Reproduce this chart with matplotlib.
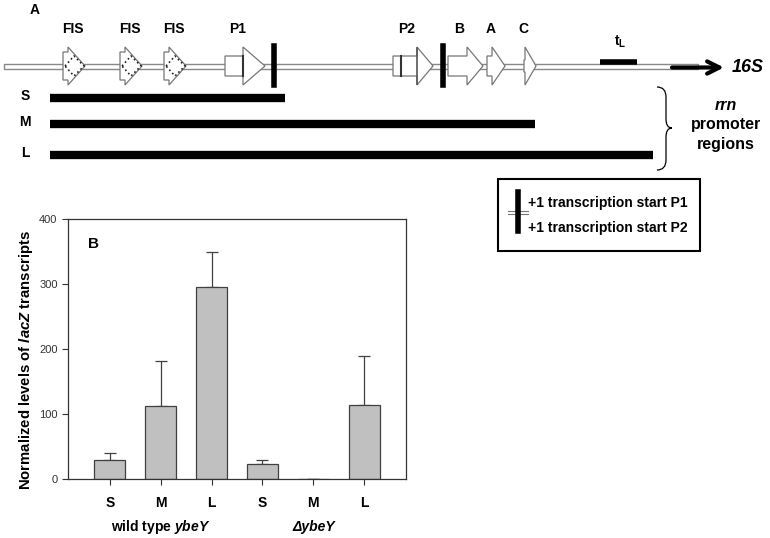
import matplotlib
matplotlib.use("Agg")
import matplotlib.pyplot as plt
from matplotlib.patches import Polygon, Rectangle, PathPatch
from matplotlib.path import Path

plt.rcParams['font.family'] = ['Liberation Sans', 'DejaVu Sans']
plt.rcParams['mathtext.fontset'] = 'custom'
plt.rcParams['mathtext.it'] = 'Liberation Sans:italic:bold'
plt.rcParams['mathtext.rm'] = 'Liberation Sans:bold'
plt.rcParams['mathtext.bf'] = 'Liberation Sans:bold'

# bar chart data
strains = ["wild type $\\it{ybeY}$", "ΔybeY"]
regions = ["S", "M", "L", "S", "M", "L"]
levels = [29, 112, 296, 23, 0.5, 114]
errors = [11, 70, 53, 7, 0, 75]

fig = plt.figure(figsize=(7.7, 5.38), dpi=100)

# ---- panel A: schematic in pixel coords ----
d = fig.add_axes([0, 0, 1, 1])
d.set_xlim(0, 770)
d.set_ylim(538, 0)
d.axis("off")

ymid = 66
d.add_patch(Rectangle((4, 63.5), 694, 5, facecolor="white", edgecolor="#888888", lw=1, zorder=1))
d.annotate("", xy=(724, 67.5), xytext=(672, 67.5),
           arrowprops=dict(arrowstyle="->", lw=3, color="black", mutation_scale=22, shrinkA=0, shrinkB=0), zorder=3)
d.text(732, 67, "16S", fontsize=13, fontweight="bold", fontstyle="italic", va="center")

def arrow(x0, xb, x1, hb=8, hh=18, ec="#777777"):
    pts = [(x0, ymid - hb), (xb, ymid - hb), (xb, ymid - hh), (x1, ymid),
           (xb, ymid + hh), (xb, ymid + hb), (x0, ymid + hb)]
    d.add_patch(Polygon(pts, closed=True, facecolor="white", edgecolor=ec, lw=0.9, zorder=2))

# FIS sites
for x0 in [63, 120, 164]:
    arrow(x0, x0 + 5, x0 + 22, hb=14, hh=19)
    dia = [(x0 + 2, ymid), (x0 + 11, ymid - 10), (x0 + 21, ymid), (x0 + 11, ymid + 10)]
    d.add_patch(Polygon(dia, closed=True, facecolor="white", edgecolor="#222222", lw=1.2, ls=":", zorder=3))
    d.text(x0 + 10, 29, "FIS", fontsize=10, fontweight="bold", ha="center", va="center")

# P1
arrow(225, 243, 265, hb=10, hh=19)
d.plot([243, 243], [56, 76], color="#333333", lw=1.5, zorder=3)
d.plot([274, 274], [46, 85], color="black", lw=4, zorder=3)
d.text(238, 29, "P1", fontsize=10, fontweight="bold", ha="center", va="center")

# P2
arrow(393, 417, 433, hb=10, hh=19)
d.plot([401, 401], [56, 76], color="#333333", lw=1.5, zorder=3)
d.plot([417, 417], [48, 84], color="#555555", lw=1.2, zorder=3)
d.plot([443, 443], [46, 85], color="black", lw=4, zorder=3)
d.text(407, 29, "P2", fontsize=10, fontweight="bold", ha="center", va="center")

# B, A, C boxes
arrow(448, 467, 483, hb=10, hh=19)
arrow(487, 492, 505, hb=10, hh=19)
arrow(524, 525, 536, hb=6, hh=19)
for x, t in [(459, "B"), (491, "A"), (523, "C")]:
    d.text(x, 29, t, fontsize=10, fontweight="bold", ha="center", va="center")

# tL terminator
d.plot([600, 637], [62, 62], color="black", lw=4, solid_capstyle="butt", zorder=3)
d.text(620, 42, "t$_{\\mathrm{L}}$", fontsize=10, fontweight="bold", ha="center", va="center")

d.text(35, 10, "A", fontsize=10, fontweight="bold", ha="center", va="center")

# promoter fragments
for y, end, lab in [(98, 285, "S"), (124, 535, "M"), (155, 653, "L")]:
    d.plot([50, end], [y, y], color="black", lw=6, solid_capstyle="butt")
    d.text(25, y - 2, lab, fontsize=10, fontweight="bold", ha="center", va="center")

# brace
verts = [(657, 87), (666, 87), (666, 97), (666, 119), (666, 128), (672, 128),
         (666, 128), (666, 137), (666, 160), (666, 170), (657, 170)]
codes = [Path.MOVETO, Path.CURVE3, Path.CURVE3, Path.LINETO, Path.CURVE3, Path.CURVE3,
         Path.CURVE3, Path.CURVE3, Path.LINETO, Path.CURVE3, Path.CURVE3]
d.add_patch(PathPatch(Path(verts, codes), facecolor="none", edgecolor="black", lw=0.9))
d.text(726, 106, "rrn", fontsize=11.5, fontweight="bold", fontstyle="italic", ha="center", va="center")
d.text(726, 125, "promoter", fontsize=11.5, fontweight="bold", ha="center", va="center")
d.text(726, 144, "regions", fontsize=11.5, fontweight="bold", ha="center", va="center")

# legend box
d.add_patch(Rectangle((498, 179), 202, 72, facecolor="white", edgecolor="black", lw=1.5))
d.plot([508, 528], [210.5, 210.5], color="#777777", lw=0.8)
d.plot([508, 528], [214, 214], color="#777777", lw=0.8)
d.plot([518, 518], [192, 231], color="black", lw=4)
d.text(528, 203, "+1 transcription start P1", fontsize=10, fontweight="bold", va="center")
d.text(528, 228, "+1 transcription start P2", fontsize=10, fontweight="bold", va="center")

# ---- panel B: bar chart ----
ax = fig.add_axes([68 / 770, (538 - 479) / 538, 338 / 770, 260 / 538])
x = list(range(len(levels)))
ax.bar(x, levels, width=0.61, color="#c0c0c0", edgecolor="#404040", linewidth=0.9, zorder=2)
ax.errorbar(x, levels, yerr=[[0] * len(errors), errors], fmt="none",
            ecolor="#404040", elinewidth=0.9, capsize=4, capthick=0.9, zorder=1)
ax.set_xlim(-0.82, 5.82)
ax.set_ylim(0, 400)
ax.set_yticks([0, 100, 200, 300, 400])
ax.set_xticks(x)
ax.set_xticklabels(regions, fontsize=10, fontweight="bold")
ax.tick_params(axis="y", direction="out", labelsize=8, length=4, colors="#333333")
ax.tick_params(axis="x", direction="out", length=4, pad=8, colors="#333333")
for lab in ax.get_xticklabels():
    lab.set_color("black")
for s in ax.spines.values():
    s.set_linewidth(0.9)
    s.set_color("#333333")
ax.set_ylabel("Normalized levels of $\\it{lacZ}$ transcripts", fontsize=10.7, fontweight="bold")
ax.yaxis.set_label_coords(-0.097, 0.46)
ax.text(0.074, 0.905, "B", transform=ax.transAxes, fontsize=11, fontweight="bold", ha="center", va="center")
ax.text(1, -0.185, strains[0], transform=ax.get_xaxis_transform(), fontsize=10, fontweight="bold", ha="center", va="center")
ax.text(4, -0.185, strains[1], transform=ax.get_xaxis_transform(), fontsize=10, fontweight="bold",
        fontstyle="italic", ha="center", va="center")

fig.savefig("out.png", dpi=100)
